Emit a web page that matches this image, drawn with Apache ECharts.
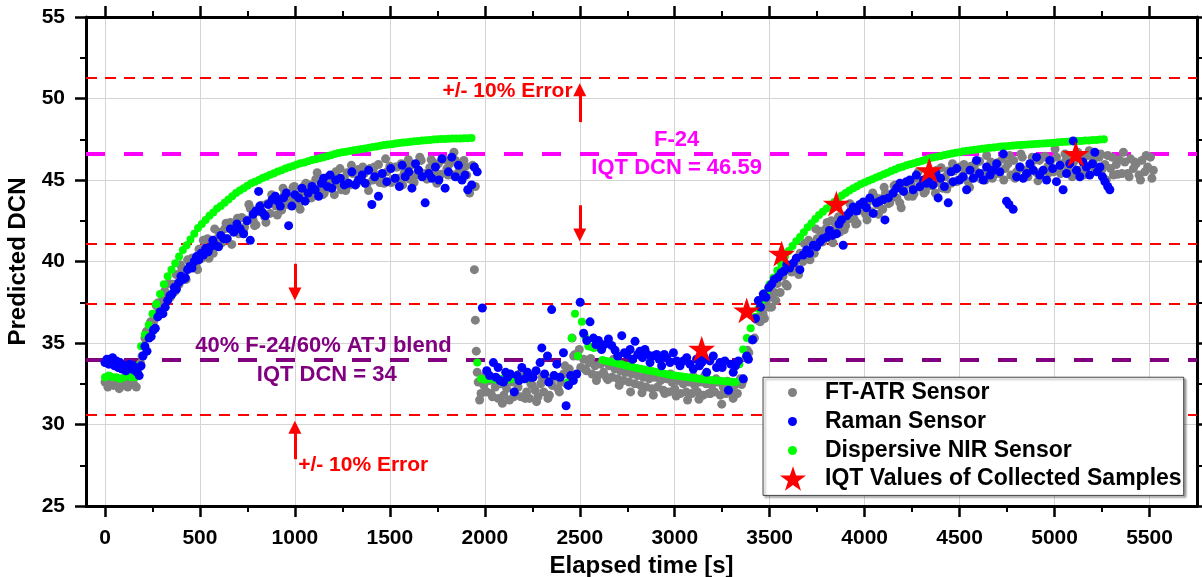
<!DOCTYPE html>
<html><head><meta charset="utf-8">
<script src="https://cdn.jsdelivr.net/npm/echarts@6/dist/echarts.min.js"></script>
<style>html,body{margin:0;padding:0;background:#fff}#c{width:1202px;height:577px}</style>
</head><body><div id="c"></div>
<script>
// ---------- axis ticks ----------
const xMajorTicks = [0,500,1000,1500,2000,2500,3000,3500,4000,4500,5000,5500];
const xMinorTicks = [250,750,1250,1750,2250,2750,3250,3750,4250,4750,5250];

// ---------- FT-ATR sensor (grey), regularly sampled from each segment start ----------
const atrStep = 15;
const atrStep2 = 30;
const atrA_t0 = 0;
const atrA = [32.6,32.3,32.7,32.4,32.5,32.2,32.6,32.4,32.3,32.7,32.5,32.3];
const atrB_t0 = 180;
const atrB = [33.5,34.2,35.3,35.5,36.3,36.3,37.3,37.0,37.6,38.2,37.8,37.8,38.6,39.2,38.6,39.55,39.0,40.1,39.7,40.2,
 39.7,40.75,40.2,40.65,41.4,40.75,40.5,41.35,41.8,41.15,42.0,41.4,42.4,41.9,42.3,41.7,42.7,42.1,42.55,43.25,
 42.55,42.25,43.05,43.45,42.75,43.55,42.95,43.95,43.4,43.8,43.15,44.15,43.5,43.9,44.55,43.8,43.5,44.25,44.65,43.9,
 44.7,44.05,45.05,44.5,44.85,44.2,45.15,44.5,44.85,45.5,44.75,44.4,45.1,45.45,44.7,45.4,44.7,45.65,45.1,45.4,
 44.75,45.7,45.0,45.3,45.95,45.2,44.8,45.5,45.85,45.05,45.8,45.1,46.0,45.4,45.75,45.05,45.95,45.3,45.6,46.2,
 45.4,45.05,45.75,46.1,45.3,46.0,45.35,46.25,45.7,46.0,45.3,46.2,45.45,45.7,46.2,45.3,44.2,45.9,44.6];
const atrB2_t0 = 187.5;
const atrB2 = [33.75,35.7,36.3,37.45,37.25,38.65,38.15,39.8,38.9,40.2,39.5,41.3,40.2,42.0,41.2,42.35,41.05,42.65,41.85,43.5,
 42.2,43.3,42.4,44.1,42.85,44.5,43.55,44.6,43.2,44.8,43.9,45.45,44.1,45.1,44.1,45.7,44.35,45.9,44.85,45.8,
 44.35,45.8,44.85,46.3,44.85,45.8,44.7,46.25,44.85,46.4,45.35,46.25,44.8,46.25,45.3,46.7,45.15,45.85,44.55];
const atrOutliers = [[1945,39.5],[1950,36.4],[1955,34.5],[1960,33.2]];
const atrC_t0 = 1965;
const atrC = [32.6,31.9,32.4,32.0,32.7,31.7,32.3,31.6,32.5,31.8,32.2,31.5,32.6,31.9,32.3,31.7,32.8,32.0,31.6,32.4,
 32.1,31.7,32.5,32.0,32.7,31.8,32.4,32.9,32.2,32.6,33.1,32.5,33.4];
const atrC2_t0 = 1972.5;
const atrC2 = [31.5,33.0,31.9,32.8,31.3,32.7,31.7,33.1,31.6,32.5,31.4,32.9,31.6,33.0,32.0,33.6];
const atrD_t0 = 2460;
const atrD = [35.3,34.3,34.2,33.5,34.0,33.3,33.8,33.1,33.6,33.0,33.7,33.2,32.9,33.6,32.9,33.4,32.8,33.3,32.7,33.2,
 32.6,33.1,32.5,33.0,32.4,32.9,32.3,32.8,32.2,32.9,32.3,32.7,32.1,32.8,32.0,32.6,32.2,32.7,31.9,32.5,
 32.0,32.6,31.9,32.4,32.0,32.6,31.8,32.5,31.9,32.4,32.0,32.6,31.8,32.3,31.9,32.5,32.0,32.4,31.9];
const atrD2_t0 = 2467.5;
const atrD2 = [34.2,34.6,33.4,34.05,32.7,33.8,32.75,34.0,32.4,33.2,32.0,33.4,31.95,33.15,31.8,32.95,31.9,33.1,31.75,32.65,
 31.5,32.95,31.55,33.0,31.9,32.8,31.25,32.65,31.6];
const atrE_t0 = 3345;
const atrE = [32.8,32.7,34.1,34.4,35.2,35.3,36.4,36.3,36.8,37.5,37.2,37.2,38.1,38.65,38.1,39.1,38.6,39.75,39.35,39.85,
 39.4,40.5,40.0,40.5,41.3,40.7,40.5,41.4,41.85,41.2,42.0,41.45,42.5,42.0,42.4,41.8,42.8,42.2,42.6,43.3,
 42.6,42.35,43.15,43.6,42.9,43.7,43.05,44.0,43.5,43.85,43.2,44.2,43.55,43.95,44.65,43.9,43.6,44.35,44.7,44.0,
 44.75,44.15,45.1,44.55,44.95,44.3,45.3,44.65,45.0,45.6,44.85,44.5,45.2,45.55,44.8,45.55,44.9,45.8,45.25,45.6,
 44.9,45.85,45.2,45.5,46.15,45.4,45.0,45.75,46.1,45.3,46.05,45.4,46.3,45.7,46.0,45.3,46.2,45.5,45.8,46.4,
 45.6,45.2,45.9,46.2,45.45,46.2,45.5,46.45,45.85,46.2,45.5,46.4,45.7,46.0,46.6,45.8,45.4,46.1,46.4,45.6,
 46.3,45.6,46.5,45.9,46.2,45.5,46.4,45.65,45.95,46.5,45.7,45.3,45.95,46.25,45.4,46.1,45.4,46.3,45.7,46.0,
 45.3,46.2,45.5,45.8,46.4,45.6];
const atrE2_t0 = 3352.5;
const atrE2 = [32.45,34.55,35.2,36.6,36.5,37.8,37.6,39.55,38.5,39.85,39.2,41.1,40.1,42.0,41.2,42.4,41.15,42.75,41.95,43.55,
 42.3,43.4,42.55,44.2,42.9,44.55,43.6,44.7,43.3,44.85,44.0,45.5,44.2,45.2,44.2,45.75,44.45,46.0,45.0,45.95,
 44.55,46.0,45.05,46.5,45.1,46.05,45.0,46.5,45.1,46.6,45.5,46.4,44.95,46.4,45.45,46.9,45.4,46.3,45.2,46.7,
 45.3,46.8,45.7,46.6,45.0,46.4,45.35,46.7,45.2,46.1,45.0,46.5,45.1];

// ---------- Dispersive NIR sensor (green), sampled every 20 s ----------
const nirStep = 20;
const nirA_t0 = 0;
const nirA = [32.9,33.0,32.9,32.9,32.8,32.9,33.0,32.9,32.9];
const nirB_t0 = 170;
const nirB = [33.6,34.8,35.5,36.1,36.8,37.4,38.0,38.6,39.1,39.5,39.9,40.3,40.7,41.0,41.35,41.7,42.05,42.3,42.55,42.8,
 43.0,43.25,43.4,43.6,43.8,44.0,44.2,44.35,44.5,44.65,44.8,44.9,45.0,45.12,45.22,45.32,45.42,45.52,45.6,45.7,
 45.78,45.86,45.95,46.02,46.08,46.15,46.22,46.28,46.34,46.4,46.46,46.52,46.6,46.65,46.7,46.74,46.78,46.82,46.86,46.9,
 46.94,46.98,47.02,47.06,47.1,47.14,47.18,47.2,47.24,47.27,47.3,47.32,47.35,47.37,47.4,47.42,47.44,47.46,47.48,47.5,
 47.51,47.52,47.53,47.54,47.55,47.55,47.56,47.56,47.57];
const nirC_t0 = 1960;
const nirC = [33.8,32.8,32.75,32.8,32.8,32.75,32.8,32.8,32.75,32.8,32.8,32.75,32.8,32.8];
const nirD = [[2440,32.6],[2457,35.3],[2475,36.8],[2490,34.2],[2511,36.3],[2528,35.4],[2545,34.8],[2560,34.75],
 [2575,34.7],[2590,34.75],[2605,34.7],[2615,34.8]];
const nirE_t0 = 2620;
const nirE = [33.95,33.9,33.85,33.8,33.75,33.7,33.62,33.57,33.52,33.47,33.42,33.37,33.32,33.28,33.23,33.18,33.13,33.08,33.03,33.0,
 32.97,32.94,32.91,32.88,32.85,32.82,32.79,32.76,32.74,32.72,32.7,32.68,32.66,32.64,32.62,32.6];
const nirF_t0 = 3340;
const nirF = [33.7,34.6,35.3,35.9,36.6,37.1,37.6,38.1,38.6,39.0,39.45,39.9,40.3,40.65,40.95,41.25,41.5,41.8,42.1,42.35,
 42.6,42.85,43.05,43.25,43.45,43.65,43.85,44.05,44.2,44.35,44.5,44.62,44.75,44.85,44.95,45.05,45.15,45.25,45.35,45.45,
 45.55,45.65,45.75,45.82,45.9,45.97,46.03,46.1,46.17,46.24,46.32,46.38,46.43,46.48,46.53,46.58,46.63,46.67,46.71,46.76,
 46.8,46.83,46.86,46.89,46.92,46.95,46.98,47.0,47.03,47.05,47.07,47.09,47.11,47.13,47.15,47.17,47.18,47.2,47.21,47.22,
 47.24,47.25,47.27,47.29,47.31,47.33,47.35,47.36,47.37,47.39,47.4,47.42,47.43,47.45,47.46,47.48,47.5];

// ---------- Raman sensor (blue), [time, DCN] ----------
const ramanA = [[0,33.8],[10,34.0],[20,33.7],[30,33.9],[40,34.1],[50,33.6],[60,33.9],[70,33.5],[80,33.8],[90,33.4],
 [100,33.6],[110,33.3],[120,33.5],[130,33.7],[140,33.4],[150,33.6],[160,33.3],[170,33.2],[180,33.0]];
const ramanB = [[190,33.6],[200,34.2],[210,34.8],[221,34.5],[232,35.3],[243,35.4],[255,35.8],[265,35.9],[278,36.6],[290,36.9],
 [305,36.8],[317,37.2],[330,37.6],[342,37.9],[353,38.0],[365,38.4],[376,38.3],[388,38.7],[400,39.1],[412,38.9],
 [423,39.0],[435,39.5],[446,39.7],[458,39.6],[470,40.0],[482,40.3],[494,40.1],[506,40.5],[518,40.4],[530,40.8],
 [543,40.6],[555,40.9],[568,41.3],[580,41.0],[598,40.9],[610,41.6],[625,41.4],[642,41.4],[660,42.0],[678,41.8],
 [695,42.3],[712,42.0],[730,41.7],[748,42.5],[765,41.3],[780,42.9],[795,43.1],[809,44.3],[815,43.4],[830,43.0],
 [844,42.8],[860,43.5],[880,43.8],[897,44.0],[910,43.7],[923,43.4],[940,43.9],[955,44.2],[967,42.2],[984,43.4],
 [1000,44.1],[1020,43.9],[1037,44.5],[1054,43.7],[1070,44.2],[1090,44.6],[1107,44.4],[1125,44.0],[1140,44.8],[1151,45.1],
 [1170,44.6],[1185,45.3],[1195,44.5],[1215,45.0],[1239,45.1],[1260,44.7],[1282,44.8],[1300,45.5],[1318,44.7],[1335,45.0],
 [1353,45.3],[1370,44.8],[1388,45.6],[1405,43.5],[1420,45.2],[1440,44.0],[1460,45.4],[1484,44.9],[1505,45.7],[1528,45.1],
 [1550,44.6],[1565,45.9],[1581,45.2],[1600,45.5],[1616,44.5],[1635,46.0],[1651,45.6],[1670,45.2],[1686,43.6],[1705,45.4],
 [1721,45.1],[1740,45.8],[1758,45.0],[1774,46.3],[1791,44.5],[1808,45.5],[1826,46.4],[1845,45.2],[1861,45.9],[1880,45.0],
 [1896,45.3],[1910,44.4],[1931,44.7],[1945,45.8],[1960,45.5]];
const ramanC = [[1987,37.15],[2010,33.3],[2025,33.0],[2045,33.8],[2058,32.9],[2070,33.5],[2080,32.7],[2098,32.6],[2110,33.2],[2120,32.9],
 [2134,33.1],[2155,32.0],[2170,33.0],[2180,32.7],[2195,33.5],[2210,32.8],[2225,33.2],[2240,32.9],[2254,32.9],[2270,33.3],
 [2291,33.8],[2300,34.7],[2315,33.1],[2330,34.2],[2337,32.6],[2352,37.05],[2365,33.0],[2379,33.7],[2396,32.9],[2414,34.4],
 [2428,31.15],[2440,32.4],[2452,33.0],[2466,32.7],[2484,33.1]];
const ramanD = [[2502,37.5],[2520,35.6],[2537,35.15],[2554,36.3],[2572,35.3],[2585,34.9],[2598,35.15],[2615,34.6],[2630,34.9],[2651,35.25],
 [2668,34.85],[2686,34.55],[2700,34.2],[2721,35.45],[2735,34.4],[2747,34.3],[2765,34.6],[2778,34.0],[2791,35.1],[2805,34.3],
 [2817,34.5],[2830,34.1],[2843,34.6],[2856,34.3],[2870,33.8],[2885,34.2],[2905,34.3],[2918,34.0],[2931,33.6],[2945,34.3],
 [2958,34.1],[2975,33.8],[2993,34.4],[3010,33.9],[3028,33.6],[3045,33.9],[3063,34.1],[3080,33.7],[3098,33.4],[3115,34.0],
 [3130,33.6],[3142,33.8],[3155,34.1],[3168,33.2],[3185,33.9],[3203,34.2],[3220,33.5],[3238,33.8],[3250,33.5],[3264,33.9],
 [3283,32.1],[3295,33.7],[3308,33.2],[3320,33.6],[3335,33.9],[3361,32.8],[3379,34.2],[3388,34.0]];
const ramanE = [[3410,35.2],[3425,36.5],[3440,37.6],[3452,37.2],[3466,38.0],[3480,37.8],[3495,38.4],[3510,38.6],[3525,38.9],[3545,39.05],
 [3560,39.3],[3575,39.4],[3590,39.8],[3605,39.6],[3624,39.9],[3640,40.2],[3659,39.5],[3676,40.4],[3694,40.7],[3710,40.5],
 [3730,41.0],[3747,40.9],[3765,41.2],[3780,41.4],[3800,41.5],[3815,41.9],[3830,41.6],[3852,41.7],[3865,42.3],[3878,42.55],
 [3887,41.0],[3905,42.8],[3920,43.0],[3940,43.35],[3958,43.1],[3975,43.5],[3993,43.65],[4010,43.3],[4027,43.9],[4045,42.95],
 [4062,43.6],[4080,43.7],[4098,43.8],[4107,42.55],[4125,43.9],[4150,44.2],[4168,44.5],[4186,44.8],[4205,44.3],[4220,44.9],
 [4238,45.0],[4255,44.4],[4272,45.3],[4291,44.6],[4310,45.0],[4326,44.8],[4344,45.2],[4360,44.7],[4375,45.4],[4387,43.9],
 [4400,45.1],[4420,44.6],[4440,43.6],[4455,45.5],[4466,44.9],[4485,45.7],[4500,45.0],[4519,45.2],[4537,44.4],[4555,45.6],
 [4572,45.1],[4589,46.2],[4605,45.4],[4625,45.0],[4642,45.8],[4660,45.3],[4677,45.6],[4695,46.0],[4712,45.5],[4730,46.6],
 [4747,43.7],[4760,43.5],[4782,43.2],[4800,45.2],[4818,45.8],[4835,45.1],[4853,45.4],[4870,46.0],[4888,45.6],[4905,46.4],
 [4922,45.3],[4940,45.6],[4958,45.0],[4975,46.2],[4990,45.7],[5010,44.9],[5028,45.9],[5045,44.4],[5063,45.4],[5080,46.0],
 [5098,47.4],[5115,45.6],[5133,45.2],[5150,46.1],[5168,45.8],[5185,45.3],[5200,46.0],[5212,46.7],[5225,45.5],[5239,45.8],
 [5252,45.2],[5265,44.9],[5280,44.6],[5291,44.4]];

// ---------- IQT values of collected samples (red stars) ----------
const iqtPoints = [[3142,34.64],[3379,37.0],[3563,40.48],[3851,43.55],[4340,45.6],[5112,46.6]];

// ---------- reference levels ----------
const f24DCN = 46.59;
const blendDCN = 34;
const errorLevels = [51.25, 41.1, 37.4, 30.6];

// ---------- labels ----------
const seriesNames = ['FT-ATR Sensor','Raman Sensor','Dispersive NIR Sensor','IQT Values of Collected Samples'];

// ---------- build ----------
function seq(t0, step, vals){ return vals.map((v,i)=>[t0+i*step, v]); }
const atrData = [].concat(seq(atrA_t0,atrStep,atrA), seq(atrB_t0,atrStep,atrB), seq(atrB2_t0,atrStep2,atrB2), atrOutliers,
  seq(atrC_t0,atrStep,atrC), seq(atrC2_t0,atrStep2,atrC2), seq(atrD_t0,atrStep,atrD), seq(atrD2_t0,atrStep2,atrD2),
  seq(atrE_t0,atrStep,atrE), seq(atrE2_t0,atrStep2,atrE2));
const nirData = [].concat(seq(nirA_t0,nirStep,nirA), seq(nirB_t0,nirStep,nirB), seq(nirC_t0,nirStep,nirC),
  nirD, seq(nirE_t0,nirStep,nirE), seq(nirF_t0,nirStep,nirF));
const ramanData = [].concat(ramanA, ramanB, ramanC, ramanD, ramanE);

const FONT = '"Liberation Sans", Arial, Helvetica, sans-serif';
const STAR = 'path://M50,2 L61.8,37.6 L99,37.6 L68.9,59.5 L80.3,95 L50,73.1 L19.7,95 L31.1,59.5 L1,37.6 L38.2,37.6 Z';
const XMIN = -100, XMAX = 5750;
const GRIDC = '#d4d4d4';

const tickLbl = {fontSize:21, fontWeight:'bold', color:'#000', fontFamily:FONT, formatter:v=>String(v)};
const axisLine = {onZero:false, lineStyle:{color:'#000', width:3}};

const chart = echarts.init(document.getElementById('c'), null, {renderer:'canvas'});

const arrowEnd = {symbol:'triangle', symbolSize:13};
const option = {
  animation:false,
  backgroundColor:'#fff',
  grid:{left:86, top:17, right:5, bottom:71, containLabel:false, outerBoundsMode:'none'},
  xAxis:[
    {type:'value', position:'bottom', min:XMIN, max:XMAX, axisLine,
     axisTick:{length:11, lineStyle:{width:2.5,color:'#000'}, customValues:xMajorTicks},
     axisLabel:Object.assign({customValues:xMajorTicks, margin:22}, tickLbl),
     splitLine:{show:true, lineStyle:{color:GRIDC, width:1}},
     name:'Elapsed time [s]', nameLocation:'middle', nameGap:48,
     nameTextStyle:{fontSize:24, fontWeight:'bold', color:'#000', fontFamily:FONT}},
    {type:'value', position:'bottom', min:XMIN, max:XMAX, axisLine:{show:false, onZero:false},
     axisTick:{length:6, lineStyle:{width:2,color:'#000'}, customValues:xMinorTicks},
     axisLabel:{show:false}, splitLine:{show:false}},
    {type:'value', position:'top', min:XMIN, max:XMAX, axisLine,
     axisTick:{length:11, lineStyle:{width:2.5,color:'#000'}, customValues:xMajorTicks},
     axisLabel:{show:false}, splitLine:{show:false}},
    {type:'value', position:'top', min:XMIN, max:XMAX, axisLine:{show:false, onZero:false},
     axisTick:{length:6, lineStyle:{width:2,color:'#000'}, customValues:xMinorTicks},
     axisLabel:{show:false}, splitLine:{show:false}}
  ],
  yAxis:[
    {type:'value', position:'left', min:25, max:55, interval:5, axisLine,
     axisTick:{length:11, lineStyle:{width:2.5,color:'#000'}},
     minorTick:{show:true, splitNumber:2, length:6, lineStyle:{width:2,color:'#000'}},
     axisLabel:Object.assign({margin:21}, tickLbl),
     splitLine:{show:true, lineStyle:{color:GRIDC, width:1}},
     name:'Predicted DCN', nameLocation:'middle', nameGap:50, nameRotate:90,
     nameTextStyle:{fontSize:24, fontWeight:'bold', color:'#000', fontFamily:FONT}},
    {type:'value', position:'right', min:25, max:55, interval:5, axisLine,
     axisTick:{length:11, lineStyle:{width:2.5,color:'#000'}},
     minorTick:{show:true, splitNumber:2, length:6, lineStyle:{width:2,color:'#000'}},
     axisLabel:{show:false}, splitLine:{show:false}}
  ],
  legend:[
    {data:[seriesNames[0],seriesNames[1],seriesNames[2]].map(n=>({name:n, icon:'circle'})),
     orient:'vertical', left:788, top:378, padding:0, itemGap:0, itemWidth:9, itemHeight:9,
     selectedMode:false, z:6,
     formatter:n=>'{p|}'+n,
     textStyle:{fontSize:23, fontWeight:'bold', color:'#000', fontFamily:FONT, lineHeight:29, rich:{p:{width:23}}}},
    {data:[{name:seriesNames[3], icon:STAR}],
     orient:'vertical', left:780, top:464, padding:0, itemGap:0, itemWidth:26, itemHeight:25,
     selectedMode:false, z:6,
     formatter:n=>'{p|}'+n,
     textStyle:{fontSize:23, fontWeight:'bold', color:'#000', fontFamily:FONT, lineHeight:29, rich:{p:{width:14}}}}
  ],
  series:[
    {name:'_ref', type:'scatter', data:[], silent:true,
     markLine:{silent:true, z:1, symbol:['none','none'], label:{show:false},
       data:[
         ...errorLevels.map(v=>({yAxis:v, lineStyle:{color:'#FF0000', width:1.8, type:[11,8]}})),
         {yAxis:f24DCN, lineStyle:{color:'#FF00FF', width:4, type:[19,19]}},
         {yAxis:blendDCN, lineStyle:{color:'#800080', width:4, type:[19,19]}},
         [{coord:[1000,39.86], symbol:'none'}, Object.assign({coord:[1000,38.0]}, arrowEnd)],
         [{coord:[1000,27.87], symbol:'none'}, Object.assign({coord:[1000,29.83]}, arrowEnd)],
         [{coord:[2500,48.55], symbol:'none'}, Object.assign({coord:[2500,50.54]}, arrowEnd)],
         [{coord:[2500,43.45], symbol:'none'}, Object.assign({coord:[2500,41.62]}, arrowEnd)]
       ],
       lineStyle:{color:'#FF0000', width:3, type:'solid'}
     }},
    {name:seriesNames[0], type:'scatter', data:atrData, symbolSize:9, itemStyle:{color:'#808080', opacity:1}, z:2, silent:true},
    {name:seriesNames[2], type:'scatter', data:nirData, symbolSize:8, itemStyle:{color:'#00FF00', opacity:1}, z:3, silent:true},
    {name:seriesNames[1], type:'scatter', data:ramanData, symbolSize:9, itemStyle:{color:'#0000FF', opacity:1}, z:4, silent:true},
    {name:seriesNames[3], type:'scatter', data:iqtPoints, symbol:STAR, symbolKeepAspect:true, symbolSize:27,
     itemStyle:{color:'#FF0000', opacity:1}, z:5, silent:true}
  ]
};
chart.setOption(option);

// annotation texts anchored in data coordinates
const annotations = [
  {text:'F-24', at:[3010,47.44], color:'#FF00FF', size:22, align:'center'},
  {text:'IQT DCN = 46.59', at:[3010,45.72], color:'#FF00FF', size:22, align:'center'},
  {text:'40% F-24/60% ATJ blend', at:[1150,34.84], color:'#800080', size:22, align:'center'},
  {text:'IQT DCN = 34', at:[1168,33.06], color:'#800080', size:22, align:'center'},
  {text:'+/- 10% Error', at:[2462,50.45], color:'#FF0000', size:21, align:'right'},
  {text:'+/- 10% Error', at:[1017,27.53], color:'#FF0000', size:21, align:'left'}
];
const gfx = annotations.map(a=>{
  const p = chart.convertToPixel({xAxisIndex:0, yAxisIndex:0}, a.at);
  return {type:'text', x:p[0], y:p[1], z:7, silent:true,
    style:{text:a.text, fill:a.color, font:'bold '+a.size+'px '+FONT, align:a.align, verticalAlign:'middle'}};
});
// legend frame
const lt = chart.convertToPixel({xAxisIndex:0, yAxisIndex:0}, [3465, 32.9]);
const rb = chart.convertToPixel({xAxisIndex:0, yAxisIndex:0}, [5680, 25.65]);
gfx.push({type:'rect', z:5, silent:true,
  shape:{x:lt[0], y:lt[1], width:rb[0]-lt[0], height:rb[1]-lt[1]},
  style:{fill:'#fff', stroke:'#444', lineWidth:1, shadowBlur:2, shadowOffsetX:2, shadowOffsetY:2, shadowColor:'rgba(0,0,0,0.35)'}});
chart.setOption({graphic:gfx});
</script></body></html>
